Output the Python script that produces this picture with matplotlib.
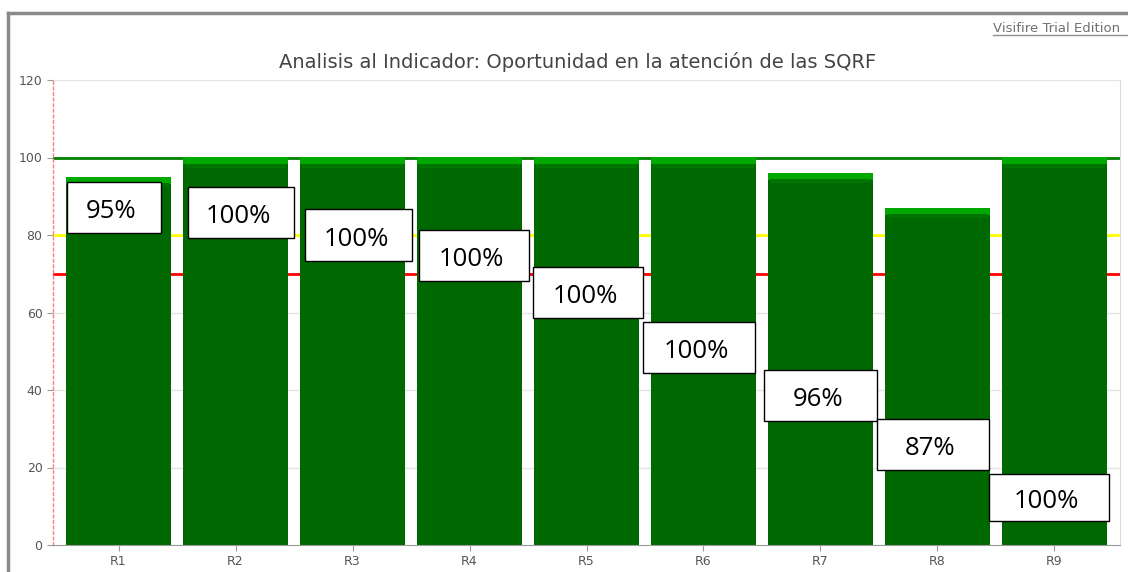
import numpy as np
import matplotlib.pyplot as plt
from matplotlib.patches import Rectangle
from matplotlib.lines import Line2D

# Data
categories = ["R1", "R2", "R3", "R4", "R5", "R6", "R7", "R8", "R9"]
values = [95, 100, 100, 100, 100, 100, 96, 87, 100]
labels = ["95%", "100%", "100%", "100%", "100%", "100%", "96%", "87%", "100%"]
goal_lines = [100, 80, 70]
goal_colors = ["#008000", "#ffff00", "#ff0000"]
title = "Analisis al Indicador: Oportunidad en la atención de las SQRF"

# label box layout (left / right edge relative to bar centre, bottom / top in data units)
box_left = [-0.44, -0.41, -0.41, -0.43, -0.46, -0.52, -0.48, -0.52, -0.56]
box_right = [0.36, 0.50, 0.51, 0.51, 0.48, 0.44, 0.48, 0.44, 0.47]
box_bottom = [80.5, 79.2, 73.3, 68.1, 58.6, 44.4, 32.0, 19.4, 6.2]
box_top = [93.7, 92.4, 86.7, 81.3, 71.7, 57.5, 45.2, 32.5, 18.3]

fig = plt.figure(figsize=(11.28, 5.72), dpi=100)
fig.patch.set_facecolor("white")

# outer frame of the chart control
fig.add_artist(Line2D([8/1128, 1.0], [1 - 13/572, 1 - 13/572], color="#8a8a8a", lw=2.5))
fig.add_artist(Line2D([8/1128, 8/1128], [0, 1 - 13/572], color="#8a8a8a", lw=2.5))

ax = fig.add_axes([53/1128, 27/572, 1067/1128, 465/572])
x = np.arange(len(categories))

# grid
for yv in range(20, 121, 20):
    ax.axhline(yv, color="#e4e4e4", lw=1, zorder=0)

for g, c in zip(goal_lines, goal_colors):
    ax.axhline(g, color=c, lw=2, zorder=1)

ax.bar(x, values, width=0.9, color="#006800", edgecolor="none", zorder=2)
ax.bar(x, [1.8] * len(values), width=0.9, bottom=np.array(values) - 1.8,
       color="#00a800", edgecolor="none", zorder=3)
ax.bar(x, [1.0] * len(values), width=0.86, bottom=np.array(values) - 2.6,
       color="#007400", edgecolor="none", zorder=3)

# label boxes
for i, lab in enumerate(labels):
    x0 = i + box_left[i]
    x1 = i + box_right[i]
    y0 = box_bottom[i]
    y1 = box_top[i]
    ax.add_patch(Rectangle((x0, y0), x1 - x0, y1 - y0, facecolor="white",
                           edgecolor="black", lw=1, zorder=5, clip_on=False))
    ax.text((x0 + x1) / 2 - 0.02, y0 + 0.42 * (y1 - y0), lab, ha="center", va="center",
            fontsize=18.5, family="Open Sans", color="black", zorder=6, clip_on=False)

ax.set_xlim(-0.56, 8.56)
ax.set_ylim(0, 120)
ax.set_yticks(range(0, 121, 20))
ax.set_xticks(x)
ax.set_xticklabels(categories)
ax.tick_params(axis="both", colors="#9a9a9a", labelcolor="#555555", labelsize=9, length=4)

ax.spines["top"].set_visible(False)
ax.spines["right"].set_color("#dddddd")
ax.spines["bottom"].set_color("#9a9a9a")
ax.spines["left"].set_color("#ff8080")
ax.spines["left"].set_linestyle((0, (2, 2)))
ax.spines["left"].set_linewidth(1)

fig.text(578/1128, 1 - 62/572, title, ha="center", va="center", fontsize=14, color="#444444")

# watermark
fig.text(993/1128, 1 - 28/572, "Visifire Trial Edition", ha="left", va="center",
         fontsize=9.5, color="#707070")
fig.add_artist(Line2D([993/1128, 1.0], [1 - 35/572, 1 - 35/572], color="#909090", lw=1))

plt.savefig("out.png", dpi=100)
